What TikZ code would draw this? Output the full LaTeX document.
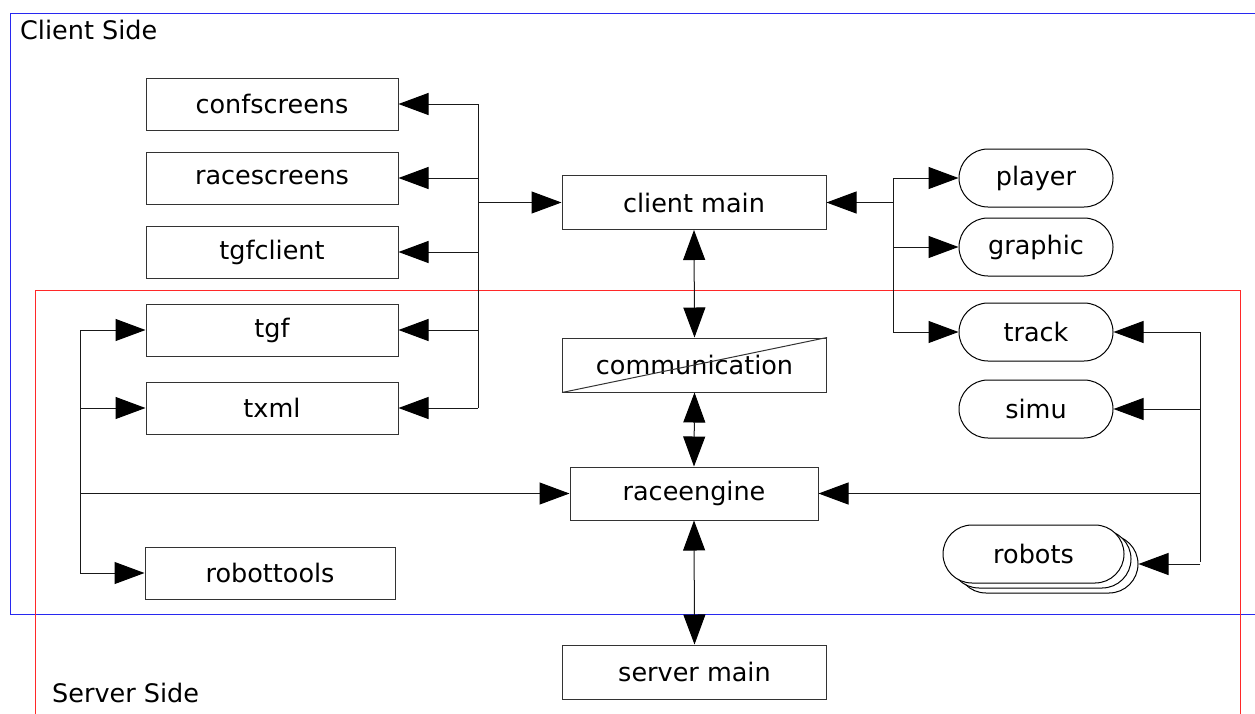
\documentclass[tikz,border=0pt]{standalone}
\usepackage{fontspec}
\setmainfont{DejaVu Sans}
\usetikzlibrary{arrows.meta}
\definecolor{frameblue}{RGB}{40,40,240}
\definecolor{framered}{RGB}{255,40,40}
\begin{document}
\begin{tikzpicture}[x=1pt,y=-1pt,
  font=\fontsize{25.5}{30}\selectfont,
  box/.style={draw=black!80, line width=1pt, fill=white, minimum width=252pt, minimum height=52pt, inner sep=0pt},
  wide/.style={box, minimum width=264pt, minimum height=54pt},
  pill/.style={draw=black, line width=1pt, fill=white, rounded corners=29pt, minimum width=154pt, minimum height=58pt, inner sep=0pt},
  link/.style={draw=black!90, line width=1pt},
  tip/.style={link, -{Triangle[length=30pt,width=22pt,color=black]}},
  both/.style={link, {Triangle[length=30pt,width=22pt,color=black]}-{Triangle[length=30pt,width=22pt,color=black]}},
]
\useasboundingbox (0,0) rectangle (1255,713);
\clip (0,0) rectangle (1255,713);

% client and server areas
\draw[frameblue, line width=1.2pt] (10.5,13.5) rectangle (1275,614.5);
\draw[framered, line width=1.2pt] (35.5,290.5) rectangle (1240.5,730);
\node[anchor=base west, inner sep=0pt] (clientside) at (20,39) {Client Side};
\node[anchor=base west, inner sep=0pt] (serverside) at (52,702) {Server Side};

% bus positions
\coordinate (lbus) at (478,0);
\coordinate (rbus) at (893,0);
\coordinate (llbus) at (80,0);
\coordinate (rrbus) at (1200,0);

% bus lines
\draw[link] (272,104 -| lbus) -- (272,408 -| lbus);
\draw[link] (0,178 -| rbus) -- (0,332 -| rbus);
\draw[link] (0,330 -| llbus) -- (0,573 -| llbus);
\draw[link] (0,332 -| rrbus) -- (0,562 -| rrbus);

% libraries, left column
\node[box] (confscreens) at (272,104) {confscreens};
\node[box] (racescreens) at (272,178) {racescreens};
\node[box] (tgfclient) at (272,252) {tgfclient};
\node[box] (tgf) at (272,330) {tgf};
\node[box] (txml) at (272,408) {txml};
\node[box, minimum width=250pt] (robottools) at (270,573) {robottools};

% central column
\node[wide] (cmain) at (694,202.5) {client main};
\node[wide] (comm) at (694.5,365) {communication};
\draw[black!80, line width=1pt] (comm.south west) -- (comm.north east);
\node[box, minimum width=248pt, minimum height=53pt] (raceengine) at (694,493.5) {raceengine};
\node[wide] (smain) at (694.5,672) {server main};

% modules, right column
\node[pill] (player) at (1036,178) {player};
\node[pill] (graphic) at (1036,247) {graphic};
\node[pill] (track) at (1036,332) {track};
\node[pill] (simu) at (1036,409) {simu};
\node[pill, minimum width=181pt] (robots3) at (1047.5,564) {};
\node[pill, minimum width=181pt] (robots2) at (1040.5,559) {};
\node[pill, minimum width=181pt] (robots) at (1033.5,554) {robots};

% arrows from the client main buses
\draw[tip] (confscreens.east -| lbus) -- (confscreens.east);
\draw[tip] (racescreens.east -| lbus) -- (racescreens.east);
\draw[tip] (tgfclient.east -| lbus) -- (tgfclient.east);
\draw[tip] (tgf.east -| lbus) -- (tgf.east);
\draw[tip] (txml.east -| lbus) -- (txml.east);
\draw[tip] (cmain.west -| lbus) -- (cmain.west);

\draw[tip] (cmain.east -| rbus) -- (cmain.east);
\draw[tip] (player.west -| rbus) -- (player.west);
\draw[tip] (graphic.west -| rbus) -- (graphic.west);
\draw[tip] (track.west -| rbus) -- (track.west);

% arrows from the race engine buses
\draw[tip] (tgf.west -| llbus) -- (tgf.west);
\draw[tip] (txml.west -| llbus) -- (txml.west);
\draw[tip] (robottools.west -| llbus) -- (robottools.west);
\draw[tip] (raceengine.west -| llbus) -- (raceengine.west);

\draw[tip] (track.east -| rrbus) -- (track.east);
\draw[tip] (simu.east -| rrbus) -- (simu.east);
\draw[tip] (robots3.east -| rrbus) -- (robots3.east);
\draw[tip] (raceengine.east -| rrbus) -- (raceengine.east);

% vertical links
\draw[both] (cmain.south) -- (comm.north);
\draw[both] (comm.south) -- (raceengine.north);
\draw[both] (raceengine.south) -- (smain.north);
\end{tikzpicture}
\end{document}
